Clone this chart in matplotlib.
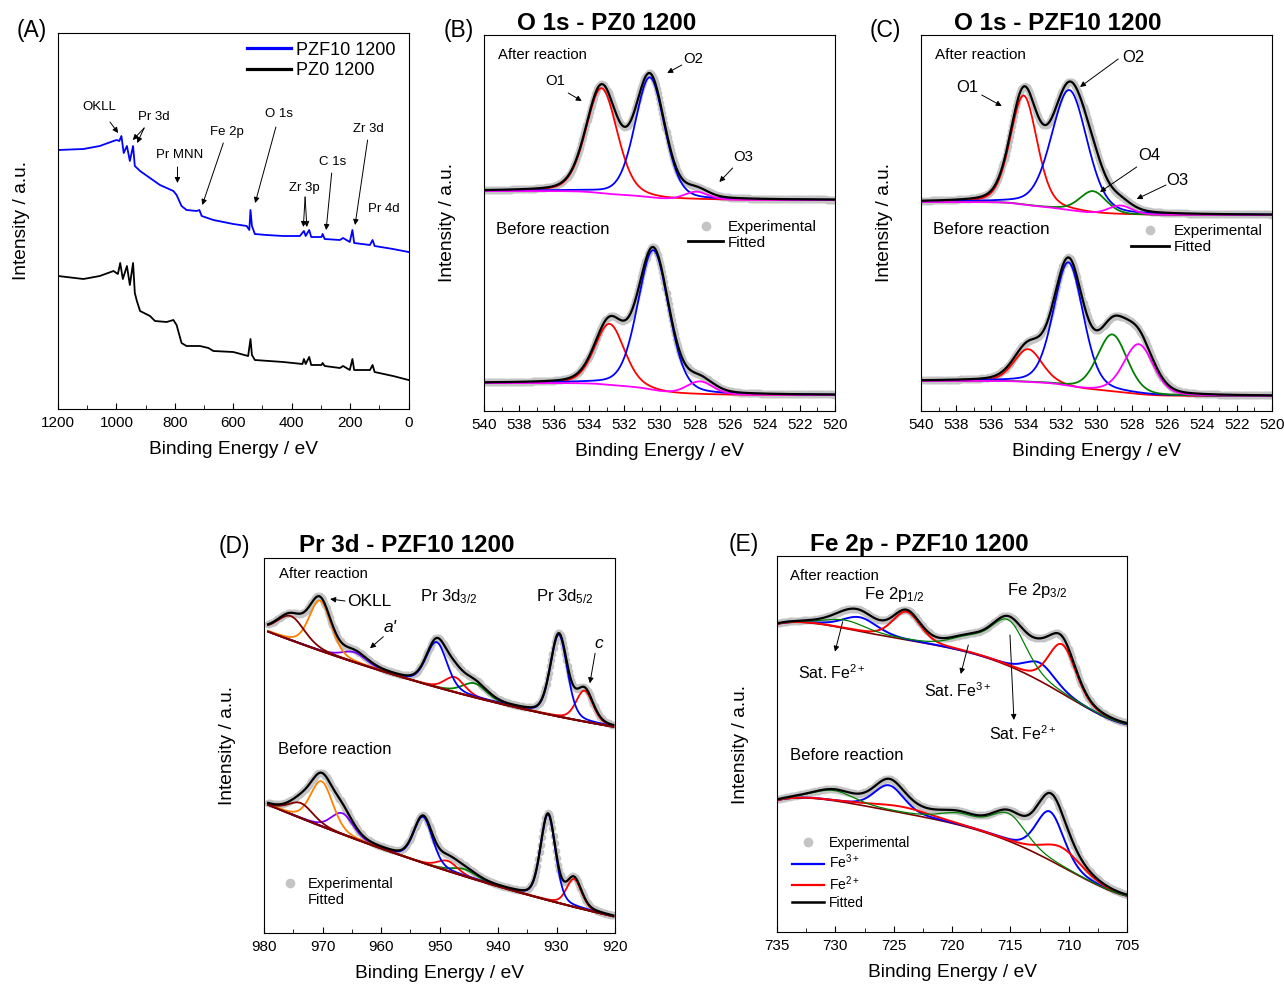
import numpy as np
import matplotlib.pyplot as plt
from matplotlib.lines import Line2D
from matplotlib.ticker import MultipleLocator

plt.rcParams['font.family'] = ['Liberation Sans', 'DejaVu Sans']
plt.rcParams['mathtext.fontset'] = 'custom'
plt.rcParams['mathtext.rm'] = 'Liberation Sans'
plt.rcParams['mathtext.it'] = 'Liberation Sans:italic'
plt.rcParams['mathtext.bf'] = 'Liberation Sans:bold'

# ---------------- (A) survey spectra (binding energy in eV, intensity a.u.)
survey_be_pzf10 = [1200, 1113, 1057, 1010, 999, 990, 983, 975, 964, 954,
                   943, 937, 919, 885, 851, 828, 805, 794, 777, 760,
                   725, 716, 708, 668, 600, 577, 554, 545, 541, 536,
                   526, 486, 429, 372, 358, 352, 340, 333, 298, 294,
                   287, 235, 224, 201, 192, 186, 132, 123, 116, 53, 0]
survey_pzf10 = [259, 260, 263, 268, 269, 268, 273, 256, 263, 248,
                263, 243, 238, 231, 224, 221, 218, 214, 203, 199,
                198, 199, 193, 189, 185, 184, 183, 179, 199, 183,
                175, 174, 173, 173, 178, 173, 179, 172, 172, 175,
                170, 169, 171, 167, 179, 166, 164, 169, 163, 160, 157]
survey_be_pz0 = [1200, 1113, 1057, 1010, 995, 987, 978, 964, 954, 943,
                 937, 930, 919, 885, 868, 828, 805, 794, 777, 760,
                 714, 685, 668, 600, 549, 541, 536, 526, 429, 363,
                 358, 352, 340, 333, 298, 294, 287, 235, 224, 201,
                 192, 186, 132, 123, 116, 53, 0]
survey_pz0 = [133, 130, 133, 138, 135, 146, 130, 143, 124, 146,
              116, 108, 98, 93, 88, 87, 89, 84, 66, 63,
              63, 61, 58, 57, 53, 70, 54, 49, 47, 45,
              50, 45, 52, 44, 44, 46, 43, 41, 43, 39,
              50, 39, 39, 44, 37, 33, 29]

# ---------------- (B) O 1s PZ0 1200 : O1, O2, O3
b_colors = ['#FF0000', '#0000FF', '#FF00FF']
b_pos_after = [533.3, 530.55, 527.9]
b_hgt_after = [105, 120, 8]
b_fwhm_after = [2.1, 2.0, 1.6]
b_bg_after = [211, 220]          # background: low-BE end, high-BE end
b_pos_before = [532.85, 530.35, 527.7]
b_hgt_before = [61, 140, 13]
b_fwhm_before = [2.0, 2.1, 1.8]
b_bg_before = [16, 28]

# ---------------- (C) O 1s PZF10 1200 : O1, O2, O4, O3
c_colors = ['#FF0000', '#0000FF', '#008000', '#FF00FF']
c_pos_after = [534.15, 531.55, 530.2, 528.65]
c_hgt_after = [109, 120, 22, 9]
c_fwhm_after = [1.8, 2.4, 1.8, 1.6]
c_bg_after = [196, 209]
c_pos_before = [533.9, 531.6, 529.1, 527.6]
c_hgt_before = [33, 124, 57, 50]
c_fwhm_before = [1.9, 2.0, 2.0, 2.0]
c_bg_before = [15, 30]

# ---------------- (D) Pr 3d PZF10 1200
d_colors = ['#800000', '#FF8000', '#8000FF', '#0000FF', '#FF0000', '#008000', '#0000FF', '#FF0000']
d_pos_after = [975.4, 970.4, 964.5, 950.5, 947.4, 944.0, 929.6, 925.2]
d_hgt_after = [24, 50, 10, 45, 15, 14, 82, 31]
d_fwhm_after = [5.5, 4.4, 5.0, 4.2, 4.0, 5.0, 3.4, 3.4]
d_pos_before = [973.7, 970.15, 966.6, 952.8, 948.6, 945.7, 931.45, 927.0]
d_hgt_before = [15, 45, 21, 46, 10, 7, 86, 28]
d_fwhm_before = [5.0, 4.5, 4.5, 3.8, 4.0, 5.0, 3.0, 3.0]
d_bg_be = [980, 950, 920]
d_bg_after = [303, 245, 206]
d_bg_before = [130, 64.7, 16.3]

# ---------------- (E) Fe 2p PZF10 1200 : Fe2+ (red), Fe3+ (blue), satellites (green)
e_colors = ['#FF0000', '#FF0000', '#0000FF', '#0000FF', '#008000', '#008000', '#008000']
e_pos_after = [710.55, 723.9, 712.45, 727.9, 715.15, 718.5, 729.1]
e_hgt_after = [49, 28, 18, 14, 44, 13, 8]
e_fwhm_after = [2.8, 2.8, 3.0, 3.5, 3.5, 3.8, 4.0]
e_pos_before = [710.6, 724.3, 711.6, 725.4, 715.15, 719.3, 730.1]
e_hgt_before = [19, 6, 48.7, 25, 26.7, 10.7, 10]
e_fwhm_before = [4.0, 6.0, 2.8, 3.0, 3.5, 4.0, 4.0]
e_bg_be = [735, 732.5, 730, 727.5, 725, 720, 717.5, 715, 712, 710, 708, 706, 705]
e_bg_after = [308.7, 307.7, 305.3, 301.3, 295.3, 282, 273.7, 267, 250.3, 235.3, 218.7, 210.3, 208.7]
e_bg_before = [132.7, 132, 130.3, 127.7, 123.7, 105.3, 98, 92, 78.7, 62, 45.3, 38.7, 37.7]

GREY = '#C4C4C4'
W, H = 1284, 984


def peak(x, c, h, w, eta=0.25):
    g = np.exp(-4 * np.log(2) * (x - c) ** 2 / w ** 2)
    l = 1 / (1 + 4 * (x - c) ** 2 / w ** 2)
    return h * (eta * l + (1 - eta) * g)


def components(x, pos, hgt, fwhm, colors):
    comps = {}
    for c, h, w, col in zip(pos, hgt, fwhm, colors):
        comps[col] = comps.get(col, 0) + peak(x, c, h, w)
    return comps


def shirley(total, lo, hi):
    # x runs from low to high binding energy
    cum = np.cumsum(total)
    return lo + (hi - lo) * cum / cum[-1]


def smooth_bg(x, be, vals, deg, x0, scale):
    coef = np.polyfit((np.asarray(be) - x0) / scale, vals, deg)
    return np.polyval(coef, (x - x0) / scale)


def draw_fit(ax, x, bg, comps, order, lws, bg_color=None, bg_first=True):
    total = sum(comps.values())
    ax.plot(x, bg + total, 'o', color=GREY, ms=5.5, mew=0, zorder=1)
    if bg_color and bg_first:
        ax.plot(x, bg, color=bg_color, lw=1.2, zorder=2)
    for col, lw in zip(order, lws):
        ax.plot(x, bg + comps[col], color=col, lw=lw, zorder=2)
    if bg_color and not bg_first:
        ax.plot(x, bg, color=bg_color, lw=1.5, zorder=2)
    ax.plot(x, bg + total, color='k', lw=1.6, zorder=3)


def px_axes(left, top, right, bottom):
    return fig.add_axes([left / W, 1 - bottom / H, (right - left) / W, (bottom - top) / H])


def style(ax, xlim, ylim, major, minor):
    ax.set_xlim(xlim)
    ax.set_ylim(ylim)
    ax.set_yticks([])
    ax.xaxis.set_major_locator(MultipleLocator(major))
    ax.xaxis.set_minor_locator(MultipleLocator(minor))
    ax.tick_params(axis='x', which='both', direction='in', labelsize=11, pad=5)
    ax.tick_params(axis='x', which='major', length=4.5)
    ax.tick_params(axis='x', which='minor', length=3)
    ax.set_xlabel('Binding Energy / eV', fontsize=13.8, labelpad=8)
    ax.set_ylabel('Intensity / a.u.', fontsize=13.8, labelpad=20)


def arrow(ax, tail, head):
    ax.annotate('', xy=head, xytext=tail,
                arrowprops=dict(arrowstyle='-|>', color='k', lw=0.7,
                                mutation_scale=8, shrinkA=0, shrinkB=0))


def fig_text(x, y, s, **kw):
    fig.text(x / W, 1 - y / H, s, ha='center', va='center', **kw)


fig = plt.figure(figsize=(12.84, 9.84), dpi=100)

# ---------------- panel A
axA = px_axes(58, 33, 408.5, 409)
axA.plot(survey_be_pzf10, survey_pzf10, color='#0000FF', lw=1.3, label='PZF10 1200')
axA.plot(survey_be_pz0, survey_pz0, color='k', lw=1.3, label='PZ0 1200')
style(axA, (1200, 0), (0, 376), 200, 100)
axA.legend(loc='upper left', bbox_to_anchor=(0.54, 0.977), frameon=False, fontsize=13,
           handlelength=2.4, handletextpad=0.3, labelspacing=0.2, borderpad=0, borderaxespad=0)
for leg_line in axA.get_legend().get_lines():
    leg_line.set_linewidth(2.3)
for s, (x, y) in [('OKLL', (1060, 302)), ('Pr 3d', (871, 292)), ('Pr MNN', (782, 254)),
                  ('Fe 2p', (622, 277)), ('O 1s', (442, 295)), ('Zr 3d', (138, 280)),
                  ('C 1s', (261, 247)), ('Zr 3p', (357, 221)), ('Pr 4d', (86, 200))]:
    axA.text(x, y, s, fontsize=9.5, ha='center', va='center')
arrow(axA, (1022, 287), (994, 276))
arrow(axA, (905, 281), (944, 269))
arrow(axA, (905, 281), (929, 266))
arrow(axA, (791, 242), (791, 226))
arrow(axA, (634, 266), (706, 204))
arrow(axA, (454, 282), (525, 206))
arrow(axA, (140, 269), (183, 184))
arrow(axA, (263, 236), (282, 179))
arrow(axA, (354, 212), (360, 182))
arrow(axA, (354, 212), (348, 182))

# ---------------- panel B
x_o = np.arange(520, 540.001, 0.06)
axB = px_axes(484, 35, 835, 411)
for pos, hgt, fw, bgl in [(b_pos_after, b_hgt_after, b_fwhm_after, b_bg_after),
                          (b_pos_before, b_hgt_before, b_fwhm_before, b_bg_before)]:
    comps = components(x_o, pos, hgt, fw, b_colors)
    bg = shirley(sum(comps.values()), *bgl)
    draw_fit(axB, x_o, bg, comps, b_colors, [1.3, 1.3, 1.3])
style(axB, (540, 520), (0, 376), 2, 1)
axB.text(539.2, 356, 'After reaction', fontsize=10.7, va='center')
axB.text(539.32, 182, 'Before reaction', fontsize=12, va='center')
axB.text(535.95, 330, 'O1', fontsize=10.7, ha='center', va='center')
axB.text(528.07, 352, 'O2', fontsize=10.7, ha='center', va='center')
axB.text(525.22, 254, 'O3', fontsize=10.7, ha='center', va='center')
arrow(axB, (535.2, 318), (534.43, 310))
arrow(axB, (528.73, 346), (529.56, 338))
arrow(axB, (525.83, 243), (526.59, 229))
hB = [Line2D([], [], marker='o', ls='none', color=GREY, ms=7, mew=0),
      Line2D([], [], color='k', lw=2)]
axB.legend(hB, ['Experimental', 'Fitted'], loc='upper left', bbox_to_anchor=(0.581, 0.508),
           frameon=False, fontsize=11, handlelength=2.3, handletextpad=0.33,
           labelspacing=0.12, borderpad=0, borderaxespad=0)

# ---------------- panel C
axC = px_axes(921, 35, 1272, 411)
for pos, hgt, fw, bgl in [(c_pos_after, c_hgt_after, c_fwhm_after, c_bg_after),
                          (c_pos_before, c_hgt_before, c_fwhm_before, c_bg_before)]:
    comps = components(x_o, pos, hgt, fw, c_colors)
    bg = shirley(sum(comps.values()), *bgl)
    draw_fit(axC, x_o, bg, comps, c_colors, [1.3, 1.3, 1.3, 1.3])
style(axC, (540, 520), (0, 376), 2, 1)
axC.text(539.2, 356, 'After reaction', fontsize=11, va='center')
axC.text(539.3, 182, 'Before reaction', fontsize=12.3, va='center')
axC.text(537.36, 324, 'O1', fontsize=12, ha='center', va='center')
axC.text(527.9, 354, 'O2', fontsize=12, ha='center', va='center')
axC.text(527.0, 256, 'O4', fontsize=12, ha='center', va='center')
axC.text(525.4, 231, 'O3', fontsize=12, ha='center', va='center')
arrow(axC, (536.54, 316), (535.4, 305))
arrow(axC, (528.76, 352), (530.94, 324))
arrow(axC, (527.71, 244), (529.8, 219))
arrow(axC, (526.04, 226), (527.71, 212))
axC.legend(hB, ['Experimental', 'Fitted'], loc='upper left', bbox_to_anchor=(0.597, 0.497),
           frameon=False, fontsize=11, handlelength=2.5, handletextpad=0.33,
           labelspacing=0.12, borderpad=0, borderaxespad=0)

# ---------------- panel D
x_d = np.arange(920.3, 979.4, 0.2)
axD = px_axes(264, 558, 615, 933)
d_order = ['#8000FF', '#008000', '#FF0000', '#0000FF', '#FF8000', '#800000']
for pos, hgt, fw, bgv in [(d_pos_after, d_hgt_after, d_fwhm_after, d_bg_after),
                          (d_pos_before, d_hgt_before, d_fwhm_before, d_bg_before)]:
    comps = components(x_d, pos, hgt, fw, d_colors)
    bg = smooth_bg(x_d, d_bg_be, bgv, 2, 950, 30)
    draw_fit(axD, x_d, bg, comps, d_order, [1.3] * 6, bg_color='#800000', bg_first=False)
style(axD, (980, 920), (0, 375), 10, 5)
axD.text(977.4, 359, 'After reaction', fontsize=10.7, va='center')
axD.text(977.66, 183, 'Before reaction', fontsize=12, va='center')
axD.text(965.86, 331.5, 'OKLL', fontsize=12.5, va='center')
arrow(axD, (966.15, 332), (968.7, 334))
axD.text(953.3, 336, 'Pr 3d$_{3/2}$', fontsize=12, va='center')
axD.text(933.5, 336, 'Pr 3d$_{5/2}$', fontsize=12, va='center')
axD.text(958.46, 305, "a'", fontsize=12.5, style='italic', ha='center', va='center')
arrow(axD, (959.6, 296.3), (961.88, 284.7))
axD.text(922.85, 289, 'c', fontsize=12.5, style='italic', ha='center', va='center')
arrow(axD, (923.4, 279.7), (924.3, 249.7))
hD = [Line2D([], [], marker='o', ls='none', color=GREY, ms=7, mew=0),
      Line2D([], [], ls='none')]
axD.legend(hD, ['Experimental', 'Fitted'], loc='upper left', bbox_to_anchor=(0.047, 0.149),
           frameon=False, fontsize=10.5, handlelength=1.3, handletextpad=0.6,
           labelspacing=0.12, borderpad=0, borderaxespad=0)

# ---------------- panel E
x_e = np.arange(705, 735.001, 0.1)
axE = px_axes(777, 556, 1127, 932)
e_order = ['#0000FF', '#FF0000', '#008000']
for pos, hgt, fw, bgv in [(e_pos_after, e_hgt_after, e_fwhm_after, e_bg_after),
                          (e_pos_before, e_hgt_before, e_fwhm_before, e_bg_before)]:
    comps = components(x_e, pos, hgt, fw, e_colors)
    bg = smooth_bg(x_e, e_bg_be, bgv, 5, 720, 15)
    draw_fit(axE, x_e, bg, comps, e_order, [1.4, 1.4, 0.9], bg_color='#800000')
style(axE, (735, 705), (0, 376), 5, 2.5)
axE.text(733.89, 356.3, 'After reaction', fontsize=10.7, va='center')
axE.text(733.89, 176, 'Before reaction', fontsize=12, va='center')
axE.text(727.54, 337, 'Fe 2p$_{1/2}$', fontsize=12, va='center')
axE.text(715.26, 342, 'Fe 2p$_{3/2}$', fontsize=12, va='center')
axE.text(733.17, 259.7, 'Sat. Fe$^{2+}$', fontsize=11.5, va='center')
arrow(axE, (729.37, 310.3), (730.03, 280.3))
axE.text(722.4, 241.3, 'Sat. Fe$^{3+}$', fontsize=11.5, va='center')
arrow(axE, (718.6, 287), (719.25, 258))
axE.text(716.85, 198.7, 'Sat. Fe$^{2+}$', fontsize=11.5, va='center')
arrow(axE, (715.03, 297), (714.69, 212))
hE = [Line2D([], [], marker='o', ls='none', color=GREY, ms=7, mew=0),
      Line2D([], [], color='#0000FF', lw=1.6),
      Line2D([], [], color='#FF0000', lw=1.6),
      Line2D([], [], color='k', lw=1.8)]
axE.legend(hE, ['Experimental', 'Fe$^{3+}$', 'Fe$^{2+}$', 'Fitted'], loc='upper left',
           bbox_to_anchor=(0.042, 0.255), frameon=False, fontsize=10, handlelength=2.3,
           handletextpad=0.36, labelspacing=0.2, borderpad=0, borderaxespad=0)

# ---------------- panel letters and titles
fig_text(32, 31, '(A)', fontsize=16.5)
fig_text(459, 31, '(B)', fontsize=16.5)
fig_text(885, 31, '(C)', fontsize=16.5)
fig_text(234, 546, '(D)', fontsize=16.5)
fig_text(744, 545, '(E)', fontsize=16.5)
fig_text(606.7, 24, 'O 1s - PZ0 1200', fontsize=17.5, fontweight='bold')
fig_text(1057.5, 24, 'O 1s - PZF10 1200', fontsize=17.5, fontweight='bold')
fig_text(406.7, 545, 'Pr 3d - PZF10 1200', fontsize=17.5, fontweight='bold')
fig_text(919.3, 545, 'Fe 2p - PZF10 1200', fontsize=17.5, fontweight='bold')

fig.savefig('out.png', dpi=100)
